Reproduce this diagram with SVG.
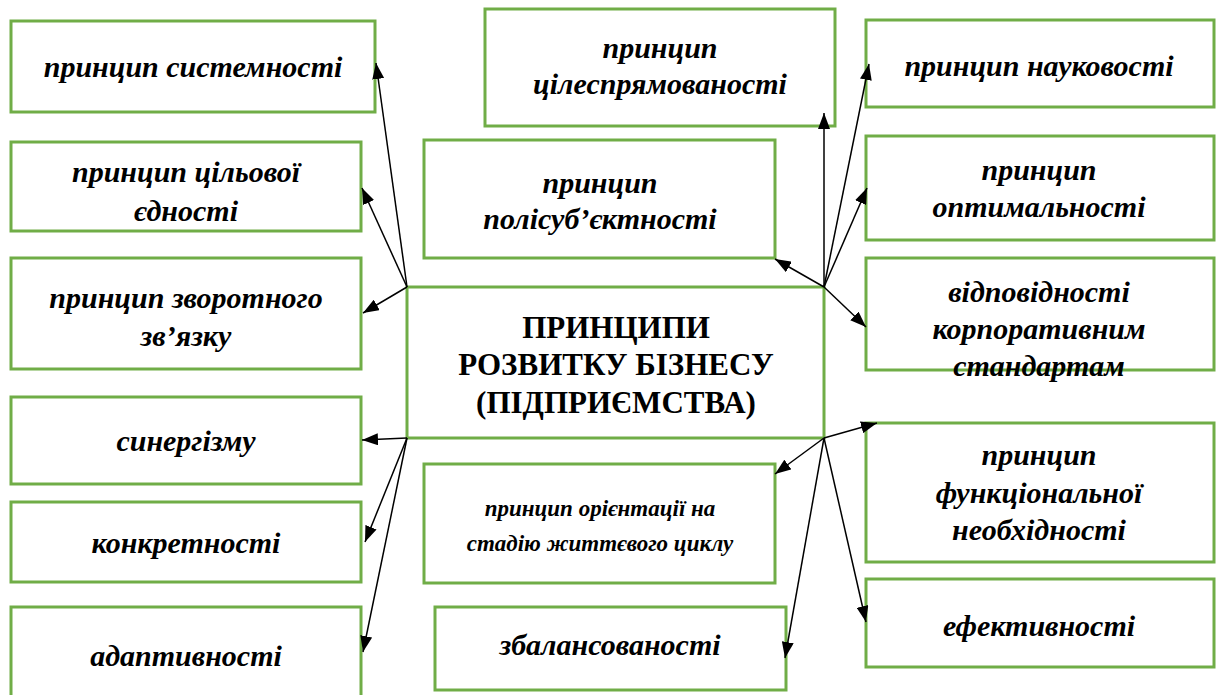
<svg xmlns="http://www.w3.org/2000/svg" width="1221" height="695" viewBox="0 0 1221 695">
<defs>
<marker id="ah" viewBox="0 0 16 12" refX="16" refY="6" markerWidth="16" markerHeight="12" markerUnits="userSpaceOnUse" orient="auto">
<path d="M0,0 L16,6 L0,12 z" fill="#000"/>
</marker>
<style>
.box{fill:#fff;stroke:#70AD47;stroke-width:3}
.c{stroke:#000;stroke-width:1.5;fill:none;marker-end:url(#ah)}
</style>
</defs>
<rect width="1221" height="695" fill="#fff"/>
<g id="n-systemnosti"><rect class="box" x="11" y="21" width="364" height="91"/><text font-family="Liberation Serif" font-weight="bold" font-style="italic" font-size="30" text-anchor="middle" x="193" y="77">принцип системності</text></g>
<g id="n-tsilovoi"><rect class="box" x="11" y="142" width="350" height="89"/><text font-family="Liberation Serif" font-weight="bold" font-style="italic" font-size="30" text-anchor="middle" x="186" y="182">принцип цільової</text><text font-family="Liberation Serif" font-weight="bold" font-style="italic" font-size="30" text-anchor="middle" x="186" y="221">єдності</text></g>
<g id="n-zvorotnoho"><rect class="box" x="11" y="258" width="350" height="111"/><text font-family="Liberation Serif" font-weight="bold" font-style="italic" font-size="30" text-anchor="middle" x="186" y="308">принцип зворотного</text><text font-family="Liberation Serif" font-weight="bold" font-style="italic" font-size="30" text-anchor="middle" x="186" y="346">зв’язку</text></g>
<g id="n-synerhizmu"><rect class="box" x="11" y="397" width="350" height="87"/><text font-family="Liberation Serif" font-weight="bold" font-style="italic" font-size="30" text-anchor="middle" x="186" y="451">синергізму</text></g>
<g id="n-konkretnosti"><rect class="box" x="11" y="502" width="350" height="80"/><text font-family="Liberation Serif" font-weight="bold" font-style="italic" font-size="30" text-anchor="middle" x="186" y="553">конкретності</text></g>
<g id="n-adaptyvnosti"><rect class="box" x="11" y="607" width="350" height="92"/><text font-family="Liberation Serif" font-weight="bold" font-style="italic" font-size="30" text-anchor="middle" x="186" y="666">адаптивності</text></g>
<g id="n-tsilespriamovanosti"><rect class="box" x="485" y="9" width="350" height="117"/><text font-family="Liberation Serif" font-weight="bold" font-style="italic" font-size="30" text-anchor="middle" x="660" y="58">принцип</text><text font-family="Liberation Serif" font-weight="bold" font-style="italic" font-size="30" text-anchor="middle" x="660" y="94">цілеспрямованості</text></g>
<g id="n-polisubiektnosti"><rect class="box" x="424" y="140" width="351" height="118"/><text font-family="Liberation Serif" font-weight="bold" font-style="italic" font-size="30" text-anchor="middle" x="600" y="193">принцип</text><text font-family="Liberation Serif" font-weight="bold" font-style="italic" font-size="30" text-anchor="middle" x="600" y="229">полісуб’єктності</text></g>
<g id="n-center"><rect class="box" x="407" y="287" width="417" height="151"/><text font-family="Liberation Serif" font-weight="bold" font-size="31" text-anchor="middle" x="616" y="338">ПРИНЦИПИ</text><text font-family="Liberation Serif" font-weight="bold" font-size="31" text-anchor="middle" x="616" y="375">РОЗВИТКУ БІЗНЕСУ</text><text font-family="Liberation Serif" font-weight="bold" font-size="31" text-anchor="middle" x="616" y="413">(ПІДПРИЄМСТВА)</text></g>
<g id="n-oriientatsii"><rect class="box" x="424" y="464" width="351" height="119"/><text font-family="Liberation Serif" font-weight="bold" font-style="italic" font-size="23" text-anchor="middle" x="600" y="516">принцип орієнтації на</text><text font-family="Liberation Serif" font-weight="bold" font-style="italic" font-size="23" text-anchor="middle" x="600" y="551">стадію життєвого циклу</text></g>
<g id="n-zbalansovanosti"><rect class="box" x="435" y="607" width="351" height="83"/><text font-family="Liberation Serif" font-weight="bold" font-style="italic" font-size="30" text-anchor="middle" x="610" y="655">збалансованості</text></g>
<g id="n-naukovosti"><rect class="box" x="866" y="20" width="348" height="87"/><text font-family="Liberation Serif" font-weight="bold" font-style="italic" font-size="30" text-anchor="middle" x="1039" y="76">принцип науковості</text></g>
<g id="n-optymalnosti"><rect class="box" x="866" y="136" width="348" height="104"/><text font-family="Liberation Serif" font-weight="bold" font-style="italic" font-size="30" text-anchor="middle" x="1039" y="180">принцип</text><text font-family="Liberation Serif" font-weight="bold" font-style="italic" font-size="30" text-anchor="middle" x="1039" y="217">оптимальності</text></g>
<g id="n-vidpovidnosti"><rect class="box" x="866" y="258" width="348" height="112"/><text font-family="Liberation Serif" font-weight="bold" font-style="italic" font-size="30" text-anchor="middle" x="1039" y="302">відповідності</text><text font-family="Liberation Serif" font-weight="bold" font-style="italic" font-size="30" text-anchor="middle" x="1039" y="339">корпоративним</text><text font-family="Liberation Serif" font-weight="bold" font-style="italic" font-size="30" text-anchor="middle" x="1039" y="376">стандартам</text></g>
<g id="n-funktsionalnoi"><rect class="box" x="866" y="423" width="348" height="139"/><text font-family="Liberation Serif" font-weight="bold" font-style="italic" font-size="30" text-anchor="middle" x="1039" y="465">принцип</text><text font-family="Liberation Serif" font-weight="bold" font-style="italic" font-size="30" text-anchor="middle" x="1039" y="503">функціональної</text><text font-family="Liberation Serif" font-weight="bold" font-style="italic" font-size="30" text-anchor="middle" x="1039" y="540">необхідності</text></g>
<g id="n-efektyvnosti"><rect class="box" x="866" y="579" width="348" height="88"/><text font-family="Liberation Serif" font-weight="bold" font-style="italic" font-size="30" text-anchor="middle" x="1039" y="636">ефективності</text></g>
<g id="connectors">
<line class="c" x1="407" y1="287" x2="376" y2="63"/>
<line class="c" x1="407" y1="287" x2="362" y2="188"/>
<line class="c" x1="407" y1="287" x2="363" y2="313"/>
<line class="c" x1="407" y1="438" x2="362" y2="440"/>
<line class="c" x1="407" y1="438" x2="365" y2="542"/>
<line class="c" x1="407" y1="438" x2="363" y2="652"/>
<line class="c" x1="824" y1="287" x2="824" y2="113"/>
<line class="c" x1="824" y1="287" x2="869" y2="64"/>
<line class="c" x1="824" y1="287" x2="867" y2="188"/>
<line class="c" x1="824" y1="287" x2="775" y2="259"/>
<line class="c" x1="824" y1="287" x2="866" y2="327"/>
<line class="c" x1="824" y1="438" x2="877" y2="423"/>
<line class="c" x1="824" y1="438" x2="775" y2="474"/>
<line class="c" x1="824" y1="438" x2="785" y2="658"/>
<line class="c" x1="824" y1="438" x2="866" y2="622"/>
</g>
</svg>
